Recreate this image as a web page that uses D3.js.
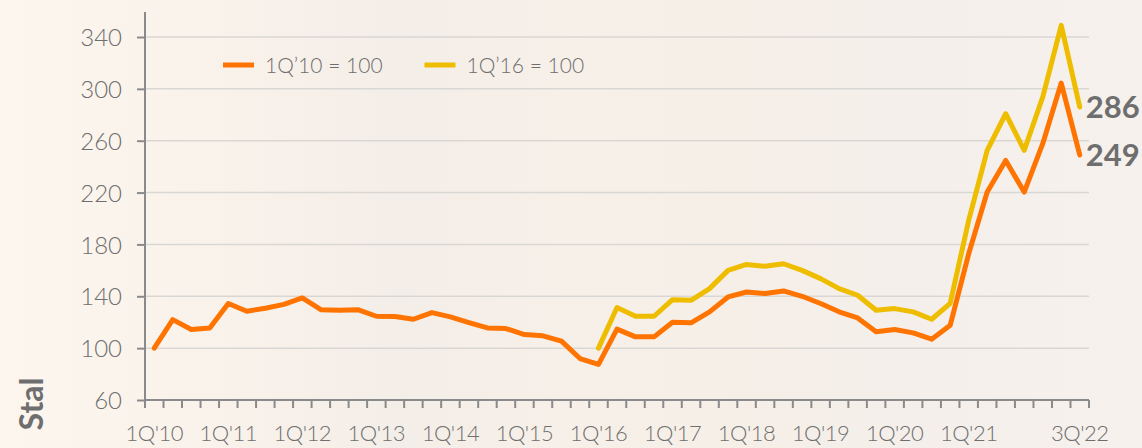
<!DOCTYPE html>
<html>
<head>
<meta charset="utf-8">
<script src="https://cdn.jsdelivr.net/npm/d3@7"></script>
<style>
  html, body { margin: 0; padding: 0; background: #f8f1ea; }
  svg { display: block; font-family: Lato, "Open Sans", sans-serif; }
</style>
</head>
<body>
<svg id="chart" width="1142" height="448"></svg>
<script>
// quarters 1Q'10 .. 3Q'22
const years = ['10','11','12','13','14','15','16','17','18','19','20','21','22'];
const quarters = [];
years.forEach(y => [1,2,3,4].forEach(q => quarters.push(q + "Q'" + y)));
quarters.splice(quarters.indexOf("3Q'22") + 1);

const tickLabels = ["1Q'10","1Q'11","1Q'12","1Q'13","1Q'14","1Q'15","1Q'16",
                    "1Q'17","1Q'18","1Q'19","1Q'20","1Q'21","3Q'22"];
const yTicks = [60, 100, 140, 180, 220, 260, 300, 340];

// index 1Q'10 = 100
const base2010 = [100, 122, 114.4, 115.6, 134.4, 128.5, 130.8, 133.8, 138.7, 129.7,
                  129.2, 129.7, 124.6, 124.4, 122.3, 127.4, 124.1, 119.7, 115.6, 115.1,
                  110.5, 109.5, 105.4, 92, 87.5, 114.7, 108.7, 108.7, 120, 119.5,
                  128, 139.5, 143.3, 142.1, 144.1, 140, 134.4, 128, 123.3, 112.6,
                  114.4, 111.8, 106.9, 117.6, 172.8, 220.4, 244.8, 220.4, 257.7, 304.5,
                  249];
// index 1Q'16 = 100, starts at 1Q'16
const base2016 = [100, 131.3, 124.6, 124.6, 137.4, 136.9, 145.9, 160, 164.6, 163.1,
                  165.1, 160, 153.6, 145.9, 140.8, 129.2, 130.5, 128, 122.3, 134.6,
                  198.5, 252.6, 280.8, 252.6, 293.7, 349, 286];
const start2016 = quarters.indexOf("1Q'16");

const series = [
  {name: "1Q’10 = 100", color: '#ff7300', values: base2010.map((v, i) => ({q: quarters[i], v: v}))},
  {name: "1Q’16 = 100", color: '#efbd00', values: base2016.map((v, i) => ({q: quarters[start2016 + i], v: v}))}
];

const svg = d3.select('#chart');
const textColor = '#6e6e6e';

// background
const defs = svg.append('defs');
const grad = defs.append('linearGradient').attr('id', 'bg').attr('x1', 0).attr('x2', 1).attr('y1', 0).attr('y2', 0);
[[0, '#fcf6ef'], [0.2, '#f9f2eb'], [0.35, '#f4eee8'], [0.5, '#f7f0e9'], [0.65, '#f6efe8'],
 [0.8, '#f4efea'], [1, '#f6f1ec']].forEach(s => grad.append('stop').attr('offset', s[0]).attr('stop-color', s[1]));
svg.append('rect').attr('width', 1142).attr('height', 448).attr('fill', 'url(#bg)');

const x = d3.scaleBand().domain(quarters).range([145, 1089]).padding(0);
const y = d3.scaleLinear().domain([60, 340]).range([400, 37]);
const cx = q => x(q) + x.bandwidth() / 2;

// gridlines
svg.append('g').selectAll('line')
   .data(yTicks.filter(t => t > 60))
   .enter()
   .append('line')
   .attr('x1', 145).attr('x2', 1089)
   .attr('y1', d => y(d)).attr('y2', d => y(d))
   .attr('stroke', '#d9d7d4')
   .attr('stroke-width', 1.5);

// y axis
const yAxis = svg.append('g')
   .attr('transform', 'translate(145,0)')
   .call(d3.axisLeft(y).tickValues(yTicks).tickSize(8).tickPadding(15))
   .attr('font-family', null)
   .attr('font-size', null);
yAxis.select('.domain').attr('d', 'M0,400V12');
yAxis.selectAll('path, line').attr('stroke', '#8a8a8a').attr('stroke-width', 2);
yAxis.selectAll('text').attr('fill', textColor).attr('font-size', '24px')
     .attr('font-weight', 300).attr('dy', '0.36em');

// x axis: ticks on band edges
const xAxis = svg.append('g').attr('transform', 'translate(0,400)');
xAxis.append('line').attr('x1', 145).attr('x2', 1089).attr('stroke', '#8a8a8a').attr('stroke-width', 2);
xAxis.selectAll('.tick')
   .data(quarters.concat(['end']))
   .enter()
   .append('line')
   .attr('x1', (d, i) => x.range()[0] + i * x.bandwidth())
   .attr('x2', (d, i) => x.range()[0] + i * x.bandwidth())
   .attr('y1', 0).attr('y2', 8)
   .attr('stroke', '#8a8a8a').attr('stroke-width', 2);
xAxis.selectAll('text')
   .data(tickLabels)
   .enter()
   .append('text')
   .attr('x', d => cx(d))
   .attr('y', 41)
   .attr('text-anchor', 'middle')
   .attr('fill', textColor)
   .attr('font-size', '22px')
   .attr('font-weight', 300)
   .attr('letter-spacing', '-0.5px')
   .text(d => d);

// lines
const line = d3.line().x(d => cx(d.q)).y(d => y(d.v));
svg.append('g').selectAll('path')
   .data(series.slice().reverse())
   .enter()
   .append('path')
   .attr('d', d => line(d.values))
   .attr('fill', 'none')
   .attr('stroke', d => d.color)
   .attr('stroke-width', 5)
   .attr('stroke-linejoin', 'round')
   .attr('stroke-linecap', 'round');

// end labels
series.forEach(s => {
  const last = s.values[s.values.length - 1];
  svg.append('text')
     .attr('x', cx(last.q) + 6)
     .attr('y', y(last.v))
     .attr('dy', '0.36em')
     .attr('fill', textColor)
     .attr('font-size', '31px')
     .attr('font-weight', 'bold')
     .text(Math.round(last.v));
});

// legend
const legend = svg.append('g').selectAll('g')
   .data(series)
   .enter()
   .append('g')
   .attr('transform', (d, i) => 'translate(' + (223 + i * 201.5) + ',65)');
legend.append('line')
   .attr('x1', 0).attr('x2', 31)
   .attr('stroke', d => d.color)
   .attr('stroke-width', 5);
legend.append('text')
   .attr('x', 42)
   .attr('dy', '0.36em')
   .attr('fill', textColor)
   .attr('font-size', '21px')
   .attr('font-weight', 300)
   .text(d => d.name);

// vertical title
svg.append('text')
   .attr('transform', 'translate(43,404) rotate(-90)')
   .attr('text-anchor', 'middle')
   .attr('fill', textColor)
   .attr('font-size', '32px')
   .attr('font-weight', 'bold')
   .text('Stal');
</script>
</body>
</html>
